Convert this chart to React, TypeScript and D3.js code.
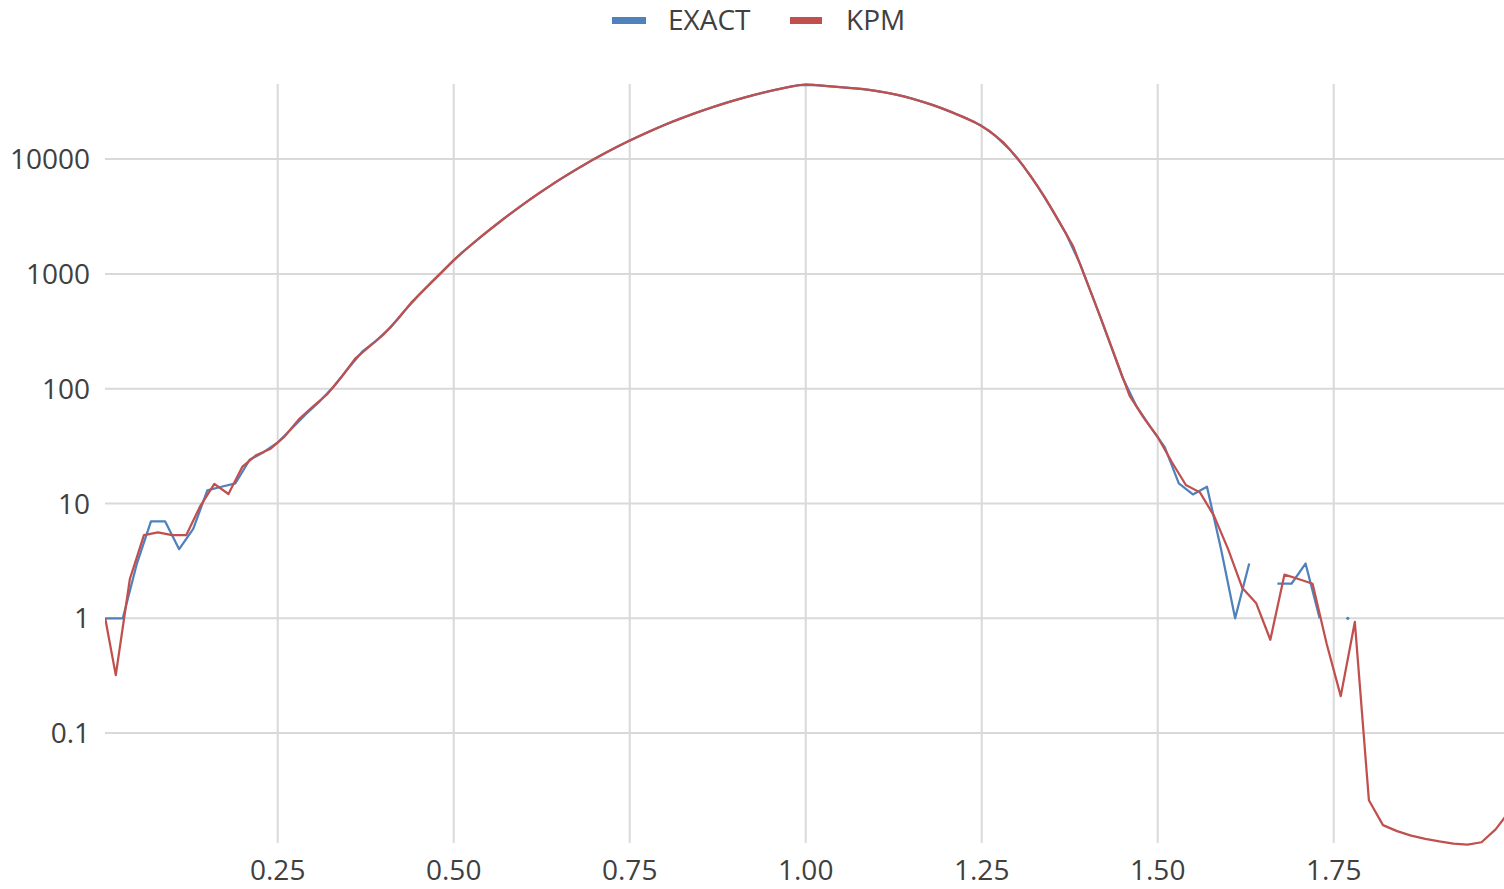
import React from "react";
import * as d3 from "d3";

// ---- data ----
const X_TICKS = [0.25, 0.5, 0.75, 1.0, 1.25, 1.5, 1.75];
const X_TICK_LABELS = ["0.25", "0.50", "0.75", "1.00", "1.25", "1.50", "1.75"];
const Y_TICKS = [0.1, 1, 10, 100, 1000, 10000];
const Y_TICK_LABELS = ["0.1", "1", "10", "100", "1000", "10000"];
const SERIES_NAMES = ["EXACT", "KPM"];

// EXACT sampled at 0.005, 0.03, 0.05, ... 1.77
const EXACT_X0 = 0.005;
const EXACT_VALUES: (number | null)[] = [
  1, 1, 3, 7, 7, 4, 6, 13, 14, 15,
  24, 28, 34, 45, 60, 78, 105, 150, 210, 262,
  340, 475, 650, 865, 1140, 1500, 1900, 2390, 2990, 3690,
  4520, 5480, 6590, 7850, 9270, 10840, 12590, 14490, 16520, 18750,
  21090, 23500, 26060, 28640, 31330, 33960, 36640, 39260, 41780, 44160,
  44400, 43300, 42300, 41300, 40100, 38400, 36300, 33800, 31050, 28200,
  25250, 22400, 19500, 15850, 12100, 8570, 5730, 3630, 2230, 1210,
  580, 270, 125, 70, 46, 31, 15, 12, 14, 4,
  1, 3, null, 2, 2, 3, 1, null, 1,
];

// KPM sampled at 0.005, 0.02, 0.04, ... 2.00
const KPM_X0 = 0.005;
const KPM_VALUES: number[] = [
  1, 0.32, 2.2, 5.3, 5.6, 5.3, 5.3, 9.5, 14.8, 12.1,
  21, 26.5, 30, 38.5, 54, 70, 89, 125, 183, 232,
  295, 400, 565, 750, 990, 1320, 1690, 2140, 2680, 3330,
  4090, 4990, 6030, 7210, 8550, 10050, 11700, 13520, 15490, 17620,
  19910, 22280, 24770, 27350, 29990, 32660, 35320, 38020, 40550, 43050,
  44870, 43850, 42750, 41800, 40850, 39350, 37400, 35200, 32400, 29700,
  26700, 23800, 21000, 17780, 14130, 10350, 7080, 4620, 2850, 1740,
  830, 400, 186, 87, 56, 38, 23, 14.5, 12.5, 7.8,
  4.0, 1.85, 1.35, 0.65, 2.4, 2.2, 2.0, 0.6, 0.21, 0.93,
  0.026, 0.0158, 0.014, 0.0128, 0.012, 0.0114, 0.0109, 0.0107, 0.0112, 0.0145,
  0.021,
];

const exactData = EXACT_VALUES.map((v, i) => ({
  x: i === 0 ? EXACT_X0 : 0.01 + 0.02 * i,
  v,
}));
const kpmData = KPM_VALUES.map((v, i) => ({
  x: i === 0 ? KPM_X0 : 0.02 * i,
  v: v as number | null,
}));

const W = 1504;
const H = 889;
const PLOT = { left: 105, right: 1504, top: 84, bottom: 843 };
const BLUE = "#4F81BD";
const RED = "#C0504D";
const GRID = "#d9d9d9";
const TEXT = "#404040";
const FONT = "'Open Sans', sans-serif";

export default function App() {
  const x = d3.scaleLinear().domain([0, 2]).range([101.7, 1509.7]);
  const y = d3.scaleLog().domain([0.01, 10000]).range([847.9, 159.1]);

  const line = d3
    .line<{ x: number; v: number | null }>()
    .defined((d) => d.v != null && d.v > 0)
    .x((d) => x(d.x))
    .y((d) => y(d.v as number));

  const isolated = exactData.filter((d, i) => {
    if (d.v == null) return false;
    const p = exactData[i - 1];
    const n = exactData[i + 1];
    return (!p || p.v == null) && (!n || n.v == null);
  });

  return (
    <svg
      width={W}
      height={H}
      style={{ position: "absolute", left: 0, top: 0, background: "#fff" }}
      fontFamily={FONT}
    >
      <defs>
        <clipPath id="plotclip">
          <rect
            x={PLOT.left}
            y={PLOT.top - 5}
            width={PLOT.right - PLOT.left}
            height={PLOT.bottom - PLOT.top + 10}
          />
        </clipPath>
      </defs>
      {/* grid */}
      {Y_TICKS.map((t) => (
        <line
          key={"hy" + t}
          x1={PLOT.left}
          x2={PLOT.right}
          y1={y(t)}
          y2={y(t)}
          stroke={GRID}
          strokeWidth={2}
        />
      ))}
      {X_TICKS.map((t) => (
        <line
          key={"vx" + t}
          x1={x(t)}
          x2={x(t)}
          y1={PLOT.top}
          y2={PLOT.bottom}
          stroke={GRID}
          strokeWidth={2}
        />
      ))}
      {/* y labels */}
      {Y_TICKS.map((t, i) => (
        <text
          key={"yl" + t}
          x={90}
          y={y(t) + 10}
          textAnchor="end"
          fontSize={28}
          fill={TEXT}
        >
          {Y_TICK_LABELS[i]}
        </text>
      ))}
      {/* x labels */}
      {X_TICKS.map((t, i) => (
        <text
          key={"xl" + t}
          x={x(t)}
          y={880}
          textAnchor="middle"
          fontSize={28}
          fill={TEXT}
        >
          {X_TICK_LABELS[i]}
        </text>
      ))}
      {/* series */}
      <g clipPath="url(#plotclip)">
        <path
          d={line(exactData) || ""}
          fill="none"
          stroke={BLUE}
          strokeWidth={2.25}
          strokeLinejoin="round"
        />
        {isolated.map((d, i) => (
          <circle
            key={"iso" + i}
            cx={x(d.x)}
            cy={y(d.v as number)}
            r={1.6}
            fill={BLUE}
          />
        ))}
        <path
          d={line(kpmData) || ""}
          fill="none"
          stroke={RED}
          strokeWidth={2.25}
          strokeLinejoin="round"
        />
      </g>
      {/* legend */}
      <rect x={612} y={17} width={34} height={7} fill={BLUE} />
      <text x={668} y={30} fontSize={28} fill={TEXT}>
        {SERIES_NAMES[0]}
      </text>
      <rect x={790} y={17} width={32} height={7} fill={RED} />
      <text x={846} y={30} fontSize={28} fill={TEXT}>
        {SERIES_NAMES[1]}
      </text>
    </svg>
  );
}
